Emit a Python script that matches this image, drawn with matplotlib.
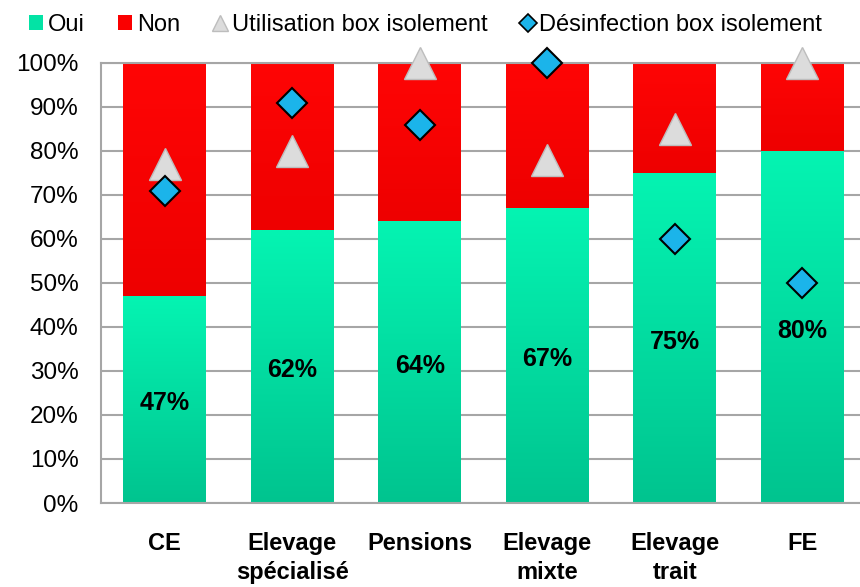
import matplotlib
matplotlib.use("Agg")
import matplotlib.pyplot as plt
import numpy as np
from matplotlib.lines import Line2D
from matplotlib.patches import Patch
from matplotlib.colors import LinearSegmentedColormap

# Data
categories = ["CE", "Elevage\nspécialisé", "Pensions", "Elevage\nmixte", "Elevage\ntrait", "FE"]
oui = [47, 62, 64, 67, 75, 80]
non = [100 - v for v in oui]
utilisation = [77, 80, 100, 78, 85, 100]
desinfection = [71, 91, 86, 100, 60, 50]
yticks = list(range(0, 101, 10))

plt.rcParams['font.family'] = ['Liberation Sans', 'DejaVu Sans']

green = '#03E3A5'
red = '#FA0000'
tri_color = '#DCDCDC'
dia_color = '#1BB4EA'
grid_color = '#A6A6A6'

green_cmap = LinearSegmentedColormap.from_list('g', ['#00C48F', '#05F4B2'])
red_cmap = LinearSegmentedColormap.from_list('r', ['#EE0000', '#FF0505'])

fig = plt.figure(figsize=(8.6, 5.87), dpi=100)
ax = fig.add_axes([0.1174, 0.1431, 0.8895, 0.7496])

x = np.arange(len(categories))
bars_oui = ax.bar(x, oui, width=0.65, color=green, zorder=2)
bars_non = ax.bar(x, non, width=0.65, bottom=oui, color=red, zorder=2)

# vertical gradient inside each bar, clipped to the bar shape
grad = np.linspace(0, 1, 256).reshape(-1, 1)
for bars, cmap in [(bars_oui, green_cmap), (bars_non, red_cmap)]:
    for b in bars:
        x0, y0, w, h = b.get_x(), b.get_y(), b.get_width(), b.get_height()
        im = ax.imshow(grad, cmap=cmap, origin='lower', aspect='auto',
                       extent=(x0, x0 + w, y0, y0 + h), zorder=2.5)
        im.set_clip_path(b)

# percentage labels in the green part
for xi, v in zip(x, oui):
    ax.text(xi, v / 2 - 0.8, f"{v}%", ha='center', va='center',
            fontsize=18, fontweight='bold', color='black', zorder=4)

ax.plot(x, utilisation, linestyle='none', marker='^', ms=23,
        mfc=tri_color, mec='#BDBDBD', mew=1, zorder=5, clip_on=False)
ax.plot(x, desinfection, linestyle='none', marker='D', ms=15,
        mfc=dia_color, mec='black', mew=1.5, zorder=6, clip_on=False)

ax.set_xlim(-0.5, 5.5)
ax.set_ylim(0, 100)
ax.set_yticks(yticks)
ax.set_yticklabels([f"{t}%" for t in yticks], fontsize=17.5)
ax.set_xticks(x)
ax.set_xticklabels(categories, fontsize=17, fontweight='bold', linespacing=1.35)
ax.tick_params(axis='y', length=0, pad=16)
ax.tick_params(axis='x', length=0, pad=21)

ax.yaxis.grid(True, color=grid_color, linewidth=1.5, zorder=0)
ax.set_axisbelow(True)
for side in ['left', 'bottom', 'top']:
    ax.spines[side].set_color(grid_color)
    ax.spines[side].set_linewidth(1.5)
ax.spines['right'].set_visible(False)

handles = [
    Patch(facecolor=green, edgecolor='none'),
    Patch(facecolor=red, edgecolor='none'),
    Line2D([], [], linestyle='none', marker='^', ms=12, mfc=tri_color, mec='#BDBDBD'),
    Line2D([], [], linestyle='none', marker='D', ms=9, mfc=dia_color, mec='black', mew=1.2),
]
labels = ["Oui", "Non", "Utilisation box isolement", "Désinfection box isolement"]
fig.legend(handles, labels, loc='upper center', bbox_to_anchor=(0.495, 1.0), ncol=4,
           frameon=False, fontsize=17, handlelength=0.6, handleheight=0.6,
           handletextpad=0.2, columnspacing=1.4, borderaxespad=0.2)

fig.savefig("out.png", dpi=100)
